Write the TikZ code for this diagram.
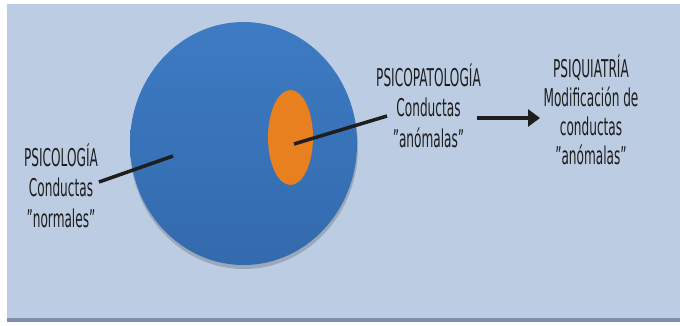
\documentclass[tikz,border=0pt]{standalone}
\usepackage{fontspec}
\setmainfont{DejaVu Sans}[FakeStretch=0.495]
\usetikzlibrary{shapes.geometric,arrows.meta}
\definecolor{panel}{HTML}{BCCDE3}
\definecolor{edgeline}{HTML}{7E8EA8}
\definecolor{bluetop}{HTML}{3D7BC3}
\definecolor{bluebot}{HTML}{336AAD}
\definecolor{orangefill}{HTML}{E8801F}
\definecolor{ink}{HTML}{1E1E1E}
\tikzset{
  label text/.style={align=center, inner sep=0pt, anchor=base, text=ink,
    font=\fontsize{24.5}{30}\selectfont},
  connector/.style={draw=ink, line width=3.5pt},
}
\begin{document}
\begin{tikzpicture}[x=1pt,y=-1pt]
\useasboundingbox (0,0) rectangle (680,325);
\fill[white] (0,0) rectangle (680,325);
\fill[panel] (7,4) rectangle (680,318);
\fill[edgeline] (7,318) rectangle (680,322);
% shadow
\fill[black, opacity=0.18] (244,147) ellipse [x radius=114, y radius=122];
% big circle
\node[ellipse, minimum width=227pt, minimum height=243pt, inner sep=0pt,
      top color=bluetop, bottom color=bluebot, draw=none] (psico) at (243.5,143.5) {};
% small ellipse
\node[ellipse, minimum width=45pt, minimum height=95pt, inner sep=0pt,
      fill=orangefill, draw=none] (pato) at (290.5,137.5) {};
% texts (anchor=base is the baseline of the last line)
\node[label text, font=\fontsize{24.5}{30.5}\selectfont] (tpsico) at (61,227) {PSICOLOGÍA\\Conductas\\"normales"};
\node[label text, font=\fontsize{24.5}{30.5}\selectfont] (tpato) at (428.5,147) {PSICOPATOLOGÍA\\Conductas\\"anómalas"};
\node[label text, font=\fontsize{24.5}{29}\selectfont] (tpsiq) at (591,164) {PSIQUIATRÍA\\Modificación de\\conductas\\"anómalas"};
% connector endpoints
\coordinate (a1) at (99,182);
\coordinate (a2) at (173,156);
\coordinate (b1) at (294,144);
\coordinate (b2) at (387,116);
\coordinate (c1) at (477,118);
\coordinate (c2) at (540,118);
\draw[connector] (a1) -- (a2);
\draw[connector] (b1) -- (b2);
\draw[connector, -{Triangle[width=17pt,length=12pt]}] (c1) -- (c2);
\end{tikzpicture}
\end{document}
